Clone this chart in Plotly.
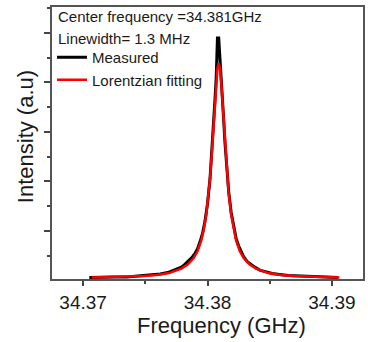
import plotly.graph_objects as go

# Measured spectrum
meas_freq = [34.3705, 34.3715, 34.3725, 34.3735, 34.3745, 34.3755, 34.3762, 34.3768,
             34.3772, 34.3776, 34.3779, 34.3782, 34.3785, 34.3788, 34.3790, 34.3792,
             34.3794, 34.3796, 34.3798, 34.3800, 34.3802, 34.3803, 34.3804, 34.3805,
             34.3806, 34.3807, 34.3808, 34.3809, 34.3810, 34.3811, 34.3812, 34.3813,
             34.3814, 34.3815, 34.3816, 34.3817, 34.3819, 34.3821, 34.3823, 34.3825,
             34.3827, 34.3829, 34.3832, 34.3835, 34.3838, 34.3842, 34.3847, 34.3852,
             34.3858, 34.3865, 34.3875, 34.3885, 34.3895, 34.3905]
meas_int = [0.06, 0.07, 0.07, 0.07, 0.09, 0.11, 0.13, 0.16,
            0.20, 0.24, 0.27, 0.33, 0.40, 0.48, 0.55, 0.64,
            0.78, 0.95, 1.20, 1.55, 2.05, 2.40, 2.80, 3.20,
            3.65, 4.10, 4.90, 4.90, 4.50, 4.10, 3.85, 3.25,
            2.80, 2.42, 2.08, 1.80, 1.38, 1.08, 0.85, 0.70,
            0.58, 0.48, 0.38, 0.32, 0.27, 0.21, 0.17, 0.14,
            0.12, 0.10, 0.09, 0.08, 0.07, 0.06]

# Lorentzian fitting curve
fit_freq = [34.3707, 34.3729, 34.3749, 34.3759, 34.3769, 34.3779, 34.3784, 34.3789,
            34.3792, 34.3795, 34.3797, 34.3799, 34.3801, 34.3802, 34.3803, 34.3804,
            34.3805, 34.3806, 34.3807, 34.3808, 34.3809,
            34.3810, 34.3811, 34.3812, 34.3813, 34.3814, 34.3815, 34.3816, 34.3817,
            34.3819, 34.3821, 34.3823, 34.3826, 34.3829, 34.3834, 34.3839, 34.3849,
            34.3859, 34.3869, 34.3889, 34.3906]
fit_int = [0.06, 0.07, 0.09, 0.11, 0.15, 0.24, 0.32, 0.46,
           0.59, 0.81, 1.03, 1.33, 1.77, 2.05, 2.39, 2.77,
           3.19, 3.63, 4.01, 4.29, 4.39,
           4.29, 4.01, 3.63, 3.19, 2.77, 2.39, 2.05, 1.77,
           1.33, 1.03, 0.81, 0.59, 0.46, 0.32, 0.24, 0.15,
           0.11, 0.09, 0.07, 0.06]

x_ticks = [34.37, 34.38, 34.39]
x_tick_labels = ["34.37", "34.38", "34.39"]
info_lines = ["Center frequency =34.381GHz", "Linewidth= 1.3 MHz"]
series_names = ["Measured", "Lorentzian fitting"]

FONT = "Arial, Liberation Sans, sans-serif"

fig = go.Figure()
fig.add_trace(go.Scatter(x=meas_freq, y=meas_int, mode="lines", name=series_names[0],
                         line=dict(color="black", width=3)))
fig.add_trace(go.Scatter(x=fit_freq, y=fit_int, mode="lines", name=series_names[1],
                         line=dict(color="#ff0000", width=2.5)))

W, H = 368, 342
L, R, T, B = 52, 3, 7, 63
pw, ph = W - L - R, H - T - B

def px(xp):
    return (xp - L) / pw

def py(yp):
    return (H - B - yp) / ph

fig.update_layout(
    width=W, height=H,
    margin=dict(l=L, r=R, t=T, b=B, pad=0),
    paper_bgcolor="white", plot_bgcolor="white",
    font=dict(family=FONT, color="#1a1a1a"),
    showlegend=True,
    legend=dict(x=px(52), y=py(41), xanchor="left", yanchor="top",
                bgcolor="rgba(0,0,0,0)", borderwidth=0,
                font=dict(size=15, family=FONT, color="#1a1a1a"),
                tracegroupgap=0, itemwidth=30),
    xaxis=dict(range=[34.3675, 34.3925], tickvals=x_ticks, ticktext=x_tick_labels,
               ticks="outside", ticklen=5, tickwidth=1.5, tickcolor="#444",
               showline=True, linecolor="#555", linewidth=1.5, mirror=True,
               showgrid=False, zeroline=False,
               tickfont=dict(size=19, family=FONT, color="#1a1a1a"),
               minor=dict(dtick=0.005, tick0=34.365, ticks="outside", ticklen=3,
                          tickwidth=1.5, tickcolor="#444", showgrid=False)),
    yaxis=dict(range=[0.03, 5.525], dtick=1, tick0=0, showticklabels=False,
               ticks="outside", ticklen=6, tickwidth=1.5, tickcolor="#444",
               showline=True, linecolor="#555", linewidth=1.5, mirror=True,
               showgrid=False, zeroline=False,
               minor=dict(dtick=0.5, tick0=0, ticks="outside", ticklen=3,
                          tickwidth=1.5, tickcolor="#444", showgrid=False)),
)

fig.add_annotation(text=info_lines[0], xref="paper", yref="paper", x=px(56), y=py(17),
                   xanchor="left", yanchor="middle", showarrow=False,
                   font=dict(size=15, family=FONT, color="#1a1a1a"))
fig.add_annotation(text=info_lines[1], xref="paper", yref="paper", x=px(56), y=py(38),
                   xanchor="left", yanchor="middle", showarrow=False,
                   font=dict(size=15, family=FONT, color="#1a1a1a"))
fig.add_annotation(text="Frequency (GHz)", xref="paper", yref="paper", x=px(223), y=py(325),
                   xanchor="center", yanchor="middle", showarrow=False,
                   font=dict(size=22, family=FONT, color="#1a1a1a"))
fig.add_annotation(text="Intensity (a.u)", xref="paper", yref="paper", x=px(25), y=py(137),
                   xanchor="center", yanchor="middle", showarrow=False, textangle=-90,
                   font=dict(size=22, family=FONT, color="#1a1a1a"))

fig.write_html("out.html")
